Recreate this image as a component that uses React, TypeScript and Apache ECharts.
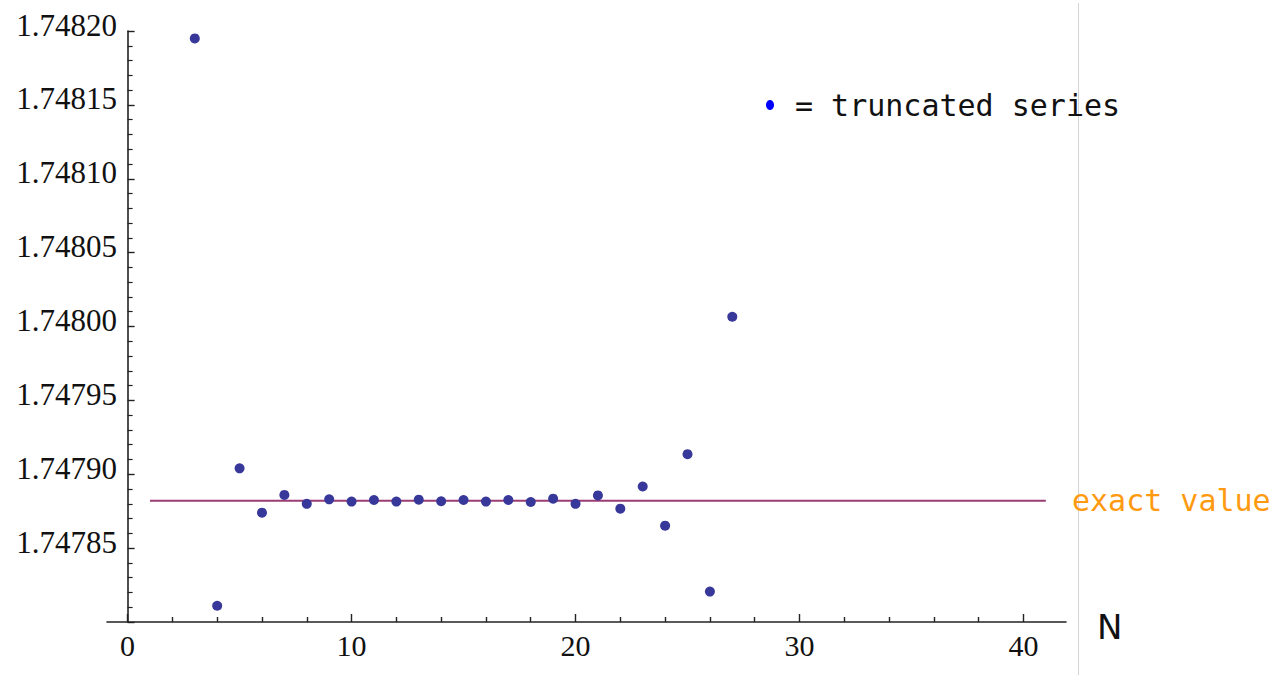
import React, { useEffect, useRef } from "react";
import * as echarts from "echarts";

const nValues = [3, 4, 5, 6, 7, 8, 9, 10, 11, 12, 13, 14, 15, 16, 17, 18, 19, 20, 21, 22, 23, 24, 25, 26, 27];
const truncatedValues = [
  1.748195, 1.747811, 1.747904, 1.747874, 1.747886, 1.74788, 1.747883, 1.7478815,
  1.7478826, 1.7478815, 1.7478828, 1.7478817, 1.7478826, 1.7478815, 1.7478826,
  1.7478812, 1.7478835, 1.74788, 1.7478857, 1.7478767, 1.7478917, 1.7478652,
  1.7479136, 1.7478206, 1.7480066,
];
const exactValue = 1.747882;
const exactRange = [1, 41];
const xMajorTicks = [0, 10, 20, 30, 40];
const xMinorTicks = [2, 4, 6, 8, 12, 14, 16, 18, 22, 24, 26, 28, 32, 34, 36, 38];
const xRange = [-0.92, 41.9];
const yRange = [1.7478, 1.7482];
const yStep = 0.00005;

export default function App() {
  const ref = useRef<HTMLDivElement>(null);
  useEffect(() => {
    if (!ref.current) return;
    const chart = echarts.init(ref.current, null, { renderer: "svg" });
    const axisColor = "#222";
    chart.setOption({
      animation: false,
      backgroundColor: "#fff",
      grid: { left: 107, right: 209, top: 31, bottom: 53, containLabel: false },
      xAxis: [
        {
          type: "value",
          min: xRange[0],
          max: xRange[1],
          axisLine: { show: true, onZero: false, lineStyle: { color: axisColor, width: 1.6 } },
          axisTick: { show: true, inside: true, length: 8, customValues: xMajorTicks, lineStyle: { color: axisColor, width: 1.4 } },
          axisLabel: {
            show: true,
            customValues: xMajorTicks,
            margin: 8,
            fontFamily: "Liberation Serif",
            fontSize: 30,
            color: "#111",
          },
          splitLine: { show: false },
        },
        {
          type: "value",
          min: xRange[0],
          max: xRange[1],
          position: "bottom",
          axisLine: { show: false, onZero: false },
          axisTick: { show: true, inside: true, length: 5, customValues: xMinorTicks, lineStyle: { color: axisColor, width: 1.4 } },
          axisLabel: { show: false },
          splitLine: { show: false },
        },
      ],
      yAxis: {
        type: "value",
        min: yRange[0],
        max: yRange[1],
        interval: yStep,
        axisLine: { show: true, onZero: true, lineStyle: { color: axisColor, width: 1.6 } },
        axisTick: { show: true, inside: true, length: 7, lineStyle: { color: axisColor, width: 1.4 } },
        minorTick: { show: true, splitNumber: 5, length: 5, lineStyle: { color: axisColor, width: 1.2 } },
        axisLabel: {
          showMinLabel: false,
          margin: -10,
          fontFamily: "Liberation Serif",
          fontSize: 31,
          color: "#111",
          verticalAlign: "bottom",
          lineHeight: 12,
          formatter: (v: number) => v.toFixed(5),
        },
        splitLine: { show: false },
      },
      series: [
        {
          type: "line",
          data: exactRange.map((x) => [x, exactValue]),
          showSymbol: false,
          lineStyle: { color: "#9b3d74", width: 2 },
          z: 2,
        },
        {
          type: "scatter",
          data: nValues.map((n, i) => [n, truncatedValues[i]]),
          symbol: "circle",
          symbolSize: 10,
          itemStyle: { color: "#38389a", opacity: 1 },
          z: 3,
        },
      ],
      graphic: [
        {
          type: "line",
          shape: { x1: 1078.5, y1: 3, x2: 1078.5, y2: 675 },
          style: { stroke: "#d4d4d4", lineWidth: 1 },
        },
        {
          type: "ellipse",
          shape: { cx: 770, cy: 105, rx: 4, ry: 5 },
          style: { fill: "#0000ff" },
        },
        {
          type: "text",
          x: 795,
          y: 105,
          style: {
            text: "= truncated series",
            font: "30px 'DejaVu Sans Mono'",
            fill: "#111",
            verticalAlign: "middle",
          },
        },
        {
          type: "text",
          x: 1072,
          y: 500,
          style: {
            text: "exact value",
            font: "30px 'DejaVu Sans Mono'",
            fill: "#ff9a10",
            verticalAlign: "middle",
          },
        },
        {
          type: "text",
          x: 1097,
          y: 627,
          style: {
            text: "N",
            font: "34px 'DejaVu Sans'",
            fill: "#111",
            verticalAlign: "middle",
          },
        },
      ],
    });
    return () => chart.dispose();
  }, []);
  return (
    <div
      ref={ref}
      style={{ position: "fixed", left: 0, top: 0, width: 1275, height: 675 }}
    />
  );
}
